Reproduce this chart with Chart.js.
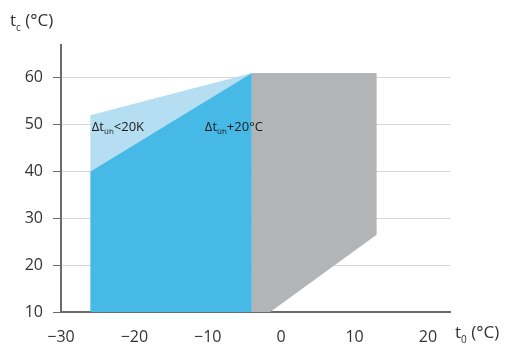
<!DOCTYPE html>
<html>
<head>
<meta charset="utf-8">
<script src="https://cdn.jsdelivr.net/npm/chart.js@4.4.0/dist/chart.umd.min.js"></script>
<style>
  html, body { margin: 0; padding: 0; background: #fff; }
  #wrap { width: 510px; height: 347px; }
</style>
</head>
<body>
<div id="wrap"><canvas id="chart" width="510" height="347"></canvas></div>
<script>
// evaporating temperature t0 (x) / condensing temperature tc (y)
const xTicks = [-30, -20, -10, 0, 10, 20];
const yTicks = [10, 20, 30, 40, 50, 60];

// envelope outlines (t0, tc)
const grayT0 = [-4, -4, 13, 13, -1.5];
const grayTc = [10, 61, 61, 26.5, 10];
const blueT0 = [-26, -26, -4, -4];
const blueTc = [10, 40, 61, 10];
const lightT0 = [-26, -26, -4];
const lightTc = [40, 52, 61];

const labels = ['Δt|üh|<20K', 'Δt|üh|+20°C'];
const labelT0 = [-25.8, -10.4];
const labelTc = [49.6, 49.6];

const pts = (xs, ys) => xs.map((x, i) => ({ x: x, y: ys[i] }));

const font = '"Open Sans", "Liberation Sans", sans-serif';
const ink = '#333333';

function shape(xs, ys, color) {
    return {
        data: pts(xs, ys),
        showLine: true,
        fill: 'shape',
        backgroundColor: color,
        borderColor: color,
        borderWidth: 0,
        pointRadius: 0,
        tension: 0
    };
}

// text like "t|c| (°C)" -> t, subscript c, then rest
function subText(ctx, str, x, y, size) {
    const parts = str.split('|');
    const sub = Math.round(size * 0.6);
    let cx = x;
    parts.forEach((p, i) => {
        ctx.font = (i === 1 ? sub : size) + 'px ' + font;
        ctx.fillText(p, cx, i === 1 ? y + size * 0.3 : y);
        cx += ctx.measureText(p).width;
    });
}

const textPlugin = {
    id: 'texts',
    afterDatasetsDraw(chart) {
        const ctx = chart.ctx;
        const xs = chart.scales.x, ys = chart.scales.y;
        ctx.save();
        ctx.fillStyle = '#1a1a1a';
        ctx.textBaseline = 'alphabetic';
        labels.forEach((t, i) => {
            subText(ctx, t, xs.getPixelForValue(labelT0[i]), ys.getPixelForValue(labelTc[i]) + 4, 13);
        });
        ctx.fillStyle = ink;
        subText(ctx, 't|c| (°C)', 10, 26, 17);
        subText(ctx, 't|0| (°C)', 455, 338, 17);
        ctx.restore();
    }
};

new Chart(document.getElementById('chart').getContext('2d'), {
    type: 'scatter',
    data: {
        datasets: [
            shape(grayT0, grayTc, '#b2b4b5'),
            shape(blueT0, blueTc, '#46b9e6'),
            shape(lightT0, lightTc, '#b5def2')
        ]
    },
    options: {
        responsive: false,
        animation: false,
        layout: { padding: { top: 45, right: 60, left: 0, bottom: 0 } },
        plugins: { legend: { display: false }, tooltip: { enabled: false } },
        scales: {
            x: {
                type: 'linear',
                min: -30,
                max: 23,
                afterBuildTicks: (s) => { s.ticks = xTicks.map(v => ({ value: v })); },
                afterFit: (s) => { s.height = 35; },
                grid: { display: false },
                border: { display: true, color: '#6b6b6b', width: 2 },
                ticks: {
                    color: ink,
                    padding: 8,
                    font: { family: font, size: 16 },
                    callback: (v) => String(v).replace('-', '\u2212')
                }
            },
            y: {
                type: 'linear',
                min: 10,
                max: 67,
                afterBuildTicks: (s) => { s.ticks = yTicks.map(v => ({ value: v })); },
                afterFit: (s) => { s.width = 61; },
                grid: {
                    color: '#d6d6d6',
                    lineWidth: 1,
                    tickLength: 8,
                    tickColor: '#6b6b6b'
                },
                border: { display: true, color: '#6b6b6b', width: 2 },
                ticks: {
                    color: ink,
                    padding: 10,
                    font: { family: font, size: 16 }
                }
            }
        }
    },
    plugins: [textPlugin]
});
</script>
</body>
</html>
